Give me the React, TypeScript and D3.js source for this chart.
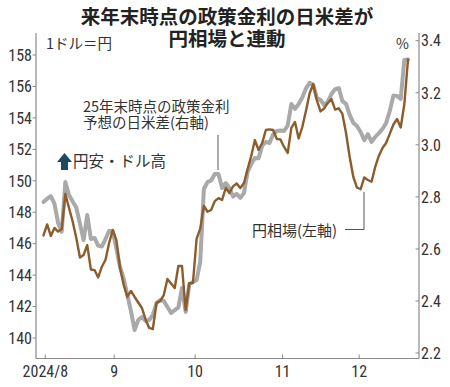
import React from 'react';
import * as d3 from 'd3';

// 円相場（左軸, 1ドル=円）: business-day series, 2024/8/1 - 2024/12
const yen = [146.52,147.22,146.49,147.0,146.77,146.93,149.16,148.27,147.41,146.36,
145.12,145.28,145.91,144.36,144.32,143.85,144.53,144.96,146.04,146.87,
146.23,144.45,143.37,142.61,142.99,142.61,142.26,141.91,141.18,140.64,
140.57,142.23,142.35,142.73,143.75,143.47,143.18,144.58,144.58,141.78,
143.48,143.5,146.3,146.96,148.4,148.03,148.14,148.71,148.9,148.78,
149.54,149.22,149.64,149.83,149.54,149.86,150.75,151.58,152.59,151.96,
152.4,153.23,153.27,153.23,152.66,152.63,152.15,151.77,153.36,153.74,
152.69,153.42,154.44,155.55,156.16,155.11,154.41,154.6,154.95,155.2,
154.53,154.61,154.25,153.04,151.51,150.24,149.57,149.46,150.21,150.05,
149.94,150.88,151.58,152.08,152.4,152.98,153.58,153.93,153.39,154.88,
157.71];

// 25年末時点の政策金利予想の日米差（右軸, %）
const spread = [2.780,2.793,2.803,2.774,2.700,2.666,2.857,2.807,2.782,2.759,
2.696,2.634,2.730,2.638,2.642,2.613,2.609,2.638,2.669,2.667,
2.600,2.530,2.486,2.423,2.361,2.288,2.327,2.338,2.323,2.327,
2.346,2.392,2.404,2.400,2.377,2.354,2.365,2.375,2.450,2.358,
2.465,2.473,2.480,2.550,2.830,2.857,2.863,2.888,2.888,2.834,
2.853,2.834,2.801,2.811,2.796,2.815,2.896,2.926,2.949,2.948,
2.997,3.011,3.007,3.040,3.053,3.055,3.053,3.074,3.157,3.138,
3.157,3.182,3.216,3.238,3.230,3.180,3.172,3.153,3.166,3.195,
3.214,3.218,3.168,3.157,3.115,3.084,3.072,3.049,3.018,3.041,
3.011,3.030,3.045,3.061,3.084,3.130,3.189,3.188,3.176,3.326,
3.328];

const monthLabels = ['2024/8', '9', '10', '11', '12'];
const monthStartIdx = [0.5, 19.4, 41.6, 65.6, 86.6];
const yenTicks = [140, 142, 144, 146, 148, 150, 152, 154, 156, 158];
const spreadTicks = [2.2, 2.4, 2.6, 2.8, 3.0, 3.2, 3.4];

const titleLines = ['来年末時点の政策金利の日米差が', '円相場と連動'];
const spreadNote = ['25年末時点の政策金利', '予想の日米差(右軸)'];

const NUM_FONT = "'Liberation Sans Narrow', 'Roboto Condensed', 'DejaVu Sans Condensed', Roboto, sans-serif";
const JP_FONT = "'Noto Sans CJK JP', 'Noto Sans', sans-serif";

export default function App() {
  const W = 450, H = 387;
  const left = 36, right = 419, top = 33, bottom = 358.5;
  const x = d3.scaleLinear().domain([0, yen.length - 1]).range([43.5, 408]);
  const yL = d3.scaleLinear().domain([140, 158]).range([338, 55]);
  const yR = d3.scaleLinear().domain([2.2, 3.4]).range([353, 40.7]);

  const yenLine = d3.line<number>().x((_, i) => x(i)).y(d => yL(d)).curve(d3.curveLinear);
  const spreadLine = d3.line<number>().x((_, i) => x(i)).y(d => yR(d)).curve(d3.curveLinear);

  const axisColor = '#8a8a8a';
  const textColor = '#333';

  return (
    <svg width={W} height={H} style={{ position: 'absolute', left: 0, top: 0, background: '#fff' }}>
      <rect x={0} y={0} width={W} height={H} fill="#fff" />
      {/* title */}
      <text textAnchor="middle" fontFamily={JP_FONT} fontWeight={700} fontSize={19.5} fill="#222">
        {titleLines.map((t, i) => (
          <tspan key={t} x={227} y={24 + i * 22}>{t}</tspan>
        ))}
      </text>
      {/* unit labels */}
      <text x={46} y={49} fontFamily={JP_FONT} fontSize={14.5} fill={textColor}>1ドル＝円</text>
      <text x={396} y={49} fontFamily={JP_FONT} fontSize={14} fill={textColor}>%</text>

      {/* axes */}
      <line x1={left} x2={left} y1={top} y2={bottom} stroke={axisColor} strokeWidth={1.2} />
      <line x1={right} x2={right} y1={top} y2={bottom} stroke={axisColor} strokeWidth={1.2} />
      <line x1={left} x2={right} y1={bottom} y2={bottom} stroke={axisColor} strokeWidth={1.2} />

      {yenTicks.map(t => (
        <g key={'l' + t}>
          <line x1={left - 3.5} x2={left} y1={yL(t)} y2={yL(t)} stroke={axisColor} />
          <text x={left - 4} y={yL(t)} dy="0.36em" textAnchor="end" fontFamily={NUM_FONT}
            fontSize={16} fill={textColor}>{t}</text>
        </g>
      ))}
      {spreadTicks.map(t => (
        <g key={'r' + t}>
          <line x1={right - 3.5} x2={right} y1={yR(t)} y2={yR(t)} stroke={axisColor} />
          <text x={right + 2} y={yR(t)} dy="0.36em" textAnchor="start" fontFamily={NUM_FONT}
            fontSize={16} fill={textColor}>{t.toFixed(1)}</text>
        </g>
      ))}
      {monthStartIdx.map((m, i) => (
        <g key={'m' + i}>
          <line x1={x(m)} x2={x(m)} y1={bottom - 4} y2={bottom} stroke={axisColor} />
          <text x={x(m)} y={377} textAnchor="middle" fontFamily={NUM_FONT} fontSize={16}
            fill={textColor}>{monthLabels[i]}</text>
        </g>
      ))}

      {/* series */}
      <path d={spreadLine(spread) || ''} fill="none" stroke="#a9a9a9" strokeWidth={4}
        strokeLinejoin="round" strokeLinecap="round" />
      <path d={yenLine(yen) || ''} fill="none" stroke="#8d5b2c" strokeWidth={2.4}
        strokeLinejoin="round" strokeLinecap="round" />

      {/* annotations */}
      <text fontFamily={JP_FONT} fontSize={14.5} fill={textColor}>
        {spreadNote.map((t, i) => (
          <tspan key={t} x={83} y={111.5 + i * 16.5}>{t}</tspan>
        ))}
      </text>
      <line x1={218} x2={218} y1={135} y2={170} stroke="#555" strokeWidth={1} />

      <path d="M57,162 L64.5,153 L72,162 L68,162 L68,170 L61,170 L61,162 Z" fill="#1d4a63" />
      <text x={73} y={167} fontFamily={JP_FONT} fontSize={15.5} fill={textColor}>円安・ドル高</text>

      <text x={252} y={236} fontFamily={JP_FONT} fontSize={15} fill={textColor}>円相場(左軸)</text>
      <polyline points="345,229.5 364,229.5 364,192" fill="none" stroke="#555" strokeWidth={1} />
    </svg>
  );
}
